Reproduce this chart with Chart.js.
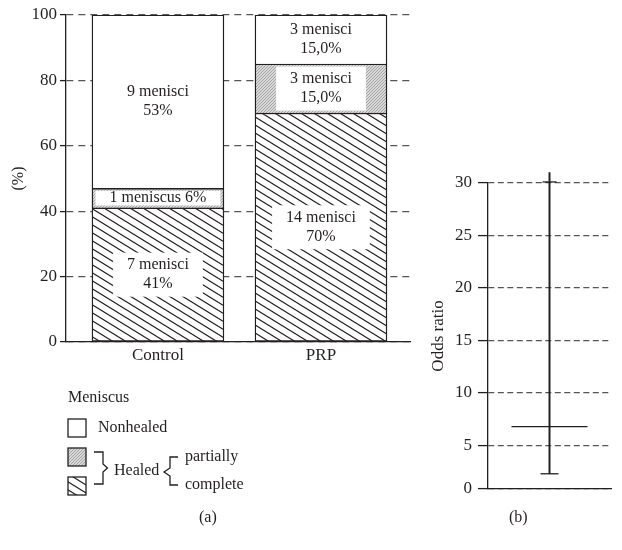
<!DOCTYPE html>
<html>
<head>
<meta charset="utf-8">
<script src="https://cdn.jsdelivr.net/npm/chart.js@4.4.1/dist/chart.umd.min.js"></script>
<style>
  html, body { margin: 0; padding: 0; background: #fff; }
  #wrap { position: relative; width: 622px; height: 550px; overflow: hidden; }
  #chartA { position: absolute; left: 0; top: 0; }
  #chartB { position: absolute; left: 420px; top: 150px; }
  .cap { position: absolute; font: 16px "Liberation Serif", serif; color: #231f20; line-height: 18px; }
</style>
</head>
<body>
<div id="wrap">
  <canvas id="chartA" width="420" height="550" style="width:420px;height:550px"></canvas>
  <canvas id="chartB" width="202" height="400" style="width:202px;height:400px"></canvas>
  <div class="cap" style="left:199px;top:508px">(a)</div>
  <div class="cap" style="left:509px;top:508px">(b)</div>
</div>
<script>
// ---- data (a): healing per group, % of menisci ----
const categories = ['Control', 'PRP'];
const completePct = [41, 70];
const partialPct = [6, 15];
const nonhealedPct = [53, 15];
const completeText = [['7 menisci', '41%'], ['14 menisci', '70%']];
const partialText = [['1 meniscus 6%'], ['3 menisci', '15,0%']];
const nonhealedText = [['9 menisci', '53%'], ['3 menisci', '15,0%']];

// ---- data (b): odds ratio with its interval ----
const oddsRatio = [6.8];
const ciLow = [2.3];
const ciHigh = [30.1];
const whiskerTop = [31];
const oddsTicks = [0, 5, 10, 15, 20, 25, 30];

const ink = '#231f20';
const serif = '"Liberation Serif", "Times New Roman", serif';
Chart.defaults.font.family = serif;
Chart.defaults.font.size = 16;
Chart.defaults.color = ink;
Chart.defaults.animation = false;
const tickFont = { size: 17 };

function hatchPattern() {
  const c = document.createElement('canvas');
  c.width = 13; c.height = 8;
  const g = c.getContext('2d');
  g.fillStyle = '#fff';
  g.fillRect(0, 0, 13, 8);
  g.strokeStyle = ink;
  g.lineWidth = 1.1;
  for (const k of [-1, 0, 1]) {
    g.beginPath();
    g.moveTo(-13, -8 + 8 * k);
    g.lineTo(26, 16 + 8 * k);
    g.stroke();
  }
  return g.createPattern(c, 'repeat');
}

function stipplePattern() {
  const c = document.createElement('canvas');
  c.width = 3; c.height = 3;
  const g = c.getContext('2d');
  g.fillStyle = '#d8d8d8';
  g.fillRect(0, 0, 3, 3);
  g.fillStyle = '#a4a4a4';
  g.fillRect(0, 0, 1, 1);
  g.fillRect(2, 1, 1, 1);
  g.fillRect(1, 2, 1, 1);
  return g.createPattern(c, 'repeat');
}

const hatch = hatchPattern();
const stipple = stipplePattern();
const segmentText = [completeText, partialText, nonhealedText];
const segmentBoxed = [true, true, false];

const toPoints = vals => vals.map((v, i) => ({ x: i, y: v }));

// text inside each segment, with a white patch where the fill is patterned
const barLabels = {
  id: 'barLabels',
  afterDatasetsDraw(chart) {
    const ctx = chart.ctx;
    ctx.save();
    ctx.font = '16px ' + serif;
    ctx.textAlign = 'center';
    ctx.textBaseline = 'middle';
    chart.data.datasets.forEach((ds, di) => {
      chart.getDatasetMeta(di).data.forEach((bar, i) => {
        const lines = segmentText[di][i];
        const { x, y, base } = bar.getProps(['x', 'y', 'base'], true);
        const cy = (y + base) / 2;
        const lh = 19;
        if (segmentBoxed[di]) {
          const w = Math.max(...lines.map(t => ctx.measureText(t).width)) + 28;
          const h = Math.min(lines.length * lh + 6, Math.abs(base - y) - 5);
          ctx.fillStyle = '#fff';
          ctx.fillRect(x - w / 2, cy - h / 2, w, h);
        }
        ctx.fillStyle = ink;
        lines.forEach((t, k) => ctx.fillText(t, x, cy + (k - (lines.length - 1) / 2) * lh));
      });
    });
    ctx.restore();
  }
};

const legendA = {
  id: 'legendA',
  afterDraw(chart) {
    const ctx = chart.ctx;
    ctx.save();
    ctx.font = '16px ' + serif;
    ctx.textBaseline = 'middle';
    ctx.textAlign = 'left';
    ctx.fillStyle = ink;
    ctx.fillText('Meniscus', 68, 398);
    ctx.lineWidth = 1.3;
    ctx.strokeStyle = ink;
    [[419, '#fff'], [448, stipple], [477, hatch]].forEach(([top, fill]) => {
      ctx.fillStyle = fill;
      ctx.fillRect(68, top, 18, 18);
      ctx.strokeRect(68, top, 18, 18);
    });
    ctx.fillStyle = ink;
    ctx.fillText('Nonhealed', 98, 428);
    ctx.fillText('Healed', 114, 471);
    ctx.fillText('partially', 185, 457);
    ctx.fillText('complete', 185, 485);
    ctx.beginPath();
    ctx.moveTo(94, 452); ctx.lineTo(103, 452); ctx.lineTo(103, 464);
    ctx.lineTo(107.5, 468); ctx.lineTo(103, 472); ctx.lineTo(103, 484); ctx.lineTo(94, 484);
    ctx.moveTo(178, 457); ctx.lineTo(170, 457); ctx.lineTo(170, 468);
    ctx.lineTo(164, 472); ctx.lineTo(170, 476); ctx.lineTo(170, 485); ctx.lineTo(178, 485);
    ctx.stroke();
    ctx.restore();
  }
};

new Chart(document.getElementById('chartA'), {
  type: 'bar',
  data: {
    datasets: [
      { label: 'complete', data: toPoints(completePct), backgroundColor: hatch, borderSkipped: false },
      { label: 'partially', data: toPoints(partialPct), backgroundColor: stipple },
      { label: 'Nonhealed', data: toPoints(nonhealedPct), backgroundColor: '#fff' }
    ]
  },
  options: {
    responsive: false,
    layout: { padding: { top: 15, right: 10, left: 0, bottom: 0 } },
    datasets: { bar: { barThickness: 132, borderColor: ink, borderWidth: 1.4 } },
    plugins: { legend: { display: false }, tooltip: { enabled: false } },
    scales: {
      x: {
        type: 'linear', stacked: true, offset: false, bounds: 'data',
        min: -0.564, max: 1.546,
        afterBuildTicks: s => { s.ticks = categories.map((c, i) => ({ value: i })); },
        grid: { display: false, drawTicks: false },
        border: { color: ink, width: 1.3 },
        ticks: { padding: 3, autoSkip: false, font: tickFont, callback: (v, i) => categories[i] },
        afterFit: s => { s.height = 208; }
      },
      y: {
        stacked: true, min: 0, max: 100,
        grid: { color: '#555', lineWidth: 1.2, tickLength: 6, tickColor: ink, tickWidth: 1.3, tickBorderDash: [] },
        border: { color: ink, width: 1.3, dash: [7, 5] },
        ticks: { stepSize: 20, padding: 3, font: tickFont },
        title: { display: true, text: '(%)', padding: { top: 9, bottom: 0 } },
        afterFit: s => { s.width = 66; }
      }
    }
  },
  plugins: [barLabels, legendA]
});

const pointLine = (vals, r) => ({
  type: 'line', data: vals, showLine: false, pointStyle: 'line',
  pointRadius: r, borderColor: ink, pointBorderColor: ink, pointBorderWidth: 1.3, clip: false
});

new Chart(document.getElementById('chartB'), {
  data: {
    labels: ['OR'],
    datasets: [
      { type: 'bar', data: [[ciLow[0], whiskerTop[0]]], backgroundColor: ink, borderWidth: 0, barThickness: 1.3, clip: false },
      pointLine(oddsRatio, 38),
      pointLine(ciLow, 9),
      pointLine(ciHigh, 7)
    ]
  },
  options: {
    responsive: false,
    layout: { autoPadding: false, padding: { top: 33, right: 11, left: 0, bottom: 0 } },
    plugins: { legend: { display: false }, tooltip: { enabled: false } },
    scales: {
      x: {
        grid: { display: false },
        border: { color: ink, width: 1.3 },
        ticks: { display: false },
        afterFit: s => { s.height = 61; }
      },
      y: {
        min: 0.85, max: 30,
        afterBuildTicks: s => { s.ticks = oddsTicks.map(v => ({ value: Math.max(v, 0.85) })); },
        grid: { color: '#555', lineWidth: 1.2, tickLength: 10, tickColor: ink, tickWidth: 1.3, tickBorderDash: [] },
        border: { color: ink, width: 1.3, dash: [6, 3.5] },
        ticks: { padding: 6, font: tickFont, callback: (v, i) => oddsTicks[i] },
        title: { display: true, text: 'Odds ratio', font: { size: 17 }, padding: { top: 8, bottom: 0 } },
        afterFit: s => { s.width = 68; }
      }
    }
  }
});
</script>
</body>
</html>
